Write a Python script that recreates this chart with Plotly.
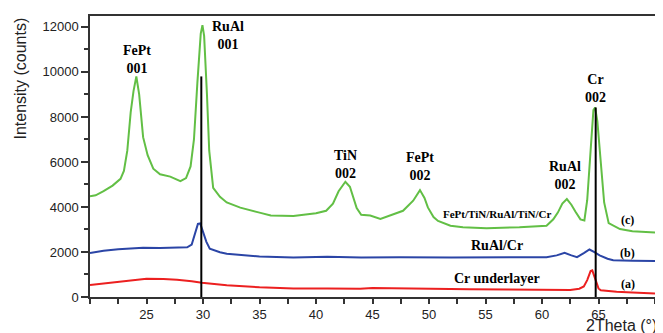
import plotly.graph_objects as go

# ---- data ----
c_x = [20.0, 20.5, 21.2, 22.0, 22.7, 23.0, 23.3, 23.6, 23.85, 24.1, 24.35, 24.7, 25.1, 25.6, 26.2,
       27.1, 28.0, 28.5, 28.9, 29.2, 29.5, 29.8, 29.95, 30.1, 30.35, 30.55, 30.9, 31.5, 32.1, 33.3,
       35.0, 36.0, 38.0, 40.0, 40.9, 41.5, 42.0, 42.6, 43.0, 43.6, 44.0, 44.8, 45.7, 46.5, 47.7,
       48.6, 49.2, 49.6, 49.9, 50.4, 50.8, 51.9, 53.0, 55.1, 58.0, 60.4, 61.0, 61.4, 61.8, 62.2,
       62.6, 62.95, 63.4, 63.75, 64.0, 64.3, 64.55, 64.7, 64.9, 65.2, 65.5, 65.9, 66.9, 68.0,
       69.0, 70.0]
c_y = [4480, 4520, 4700, 4950, 5250, 5600, 6500, 8200, 9150, 9800, 9000, 7100, 6300, 5700, 5450,
       5350, 5150, 5280, 5800, 7000, 9500, 11700, 12080, 11600, 9000, 6500, 4850, 4450, 4200, 3970,
       3750, 3620, 3600, 3720, 3830, 4150, 4700, 5120, 4900, 3950, 3650, 3620, 3470, 3600, 3830,
       4280, 4750, 4400, 3980, 3550, 3380, 3170, 3100, 3060, 3100, 3170, 3450, 3750, 4150, 4350,
       4100, 3800, 3450, 3400, 4300, 6500, 8300, 8420, 7800, 6000, 4200, 3280, 3020, 2920,
       2900, 2870]

b_x = [20.0, 21.2, 22.5, 24.7, 26.2, 27.5, 28.6, 29.0, 29.3, 29.55, 29.75, 30.0, 30.3, 30.6, 31.5,
       32.1, 35.0, 38.0, 41.0, 44.0, 47.4, 52.0, 57.0, 60.4, 61.3, 62.0, 62.6, 63.1, 63.7, 64.2,
       64.6, 65.1, 65.8, 66.3, 68.0, 70.0]
b_y = [1960, 2060, 2120, 2190, 2180, 2210, 2210, 2330, 2900, 3250, 3270, 2900, 2450, 2150, 1990,
       1920, 1800, 1760, 1790, 1760, 1770, 1750, 1760, 1770, 1850, 1960, 1850, 1770, 1950, 2110,
       2000, 1850, 1700, 1630, 1610, 1600]

a_x = [20.0, 21.2, 23.0, 25.0, 26.5, 27.7, 29.0, 29.9, 31.0, 32.1, 35.0, 38.0, 41.0, 43.9, 45.0,
       48.0, 53.6, 57.0, 60.0, 62.5, 63.3, 63.7, 64.0, 64.3, 64.45, 64.65, 64.8, 65.0, 65.2, 66.6,
       68.0, 70.0]
a_y = [530, 600, 720, 810, 800, 770, 700, 630, 580, 520, 430, 380, 380, 370, 400,
       370, 340, 330, 320, 310, 370, 470, 750, 1150, 1180, 900, 700, 380, 300, 230,
       200, 160]

ref_x = [29.85, 64.75]
ref_h = [9800, 8420]

x_ticks = [25, 30, 35, 40, 45, 50, 55, 60, 65]
y_ticks = [0, 2000, 4000, 6000, 8000, 10000, 12000]

GREEN = "#62bf45"
BLUE = "#2b45a6"
RED = "#ec2020"

fig = go.Figure()
fig.add_trace(go.Scatter(x=a_x, y=a_y, mode="lines", line=dict(color=RED, width=2), showlegend=False))
fig.add_trace(go.Scatter(x=b_x, y=b_y, mode="lines", line=dict(color=BLUE, width=2), showlegend=False))
fig.add_trace(go.Scatter(x=c_x, y=c_y, mode="lines", line=dict(color=GREEN, width=2), showlegend=False))
for xv, hv in zip(ref_x, ref_h):
    fig.add_trace(go.Scatter(x=[xv, xv], y=[0, hv], mode="lines",
                             line=dict(color="black", width=2), showlegend=False))

labels = [
    ("FePt<br>001", 24.13, 10540, 14),
    ("RuAl<br>001", 32.19, 11620, 14),
    ("TiN<br>002", 42.65, 5890, 14),
    ("FePt<br>002", 49.2, 5780, 14),
    ("RuAl<br>002", 62.04, 5420, 14),
    ("Cr<br>002", 64.72, 9250, 14),
    ("FePt/TiN/RuAl/TiN/Cr", 55.99, 3700, 11),
    ("(c)", 67.6, 3400, 12),
    ("RuAl/Cr", 55.99, 2290, 14),
    ("(b)", 67.6, 1940, 12),
    ("Cr underlayer", 55.99, 840, 14),
    ("(a)", 67.6, 570, 12),
]

# page body has an 8px default margin; figure is sized so the page is 663x333
W, H = 655, 325
L, R, T, B = 82, 8, 6, 36
PX0, PX1, PY0, PY1 = 90, 655, 14, 297  # plot area in page pixels


def paper_x(px):
    return (px - PX0) / (PX1 - PX0)


def paper_y(py):
    return (PY1 - py) / (PY1 - PY0)


annotations = []
for t, xv, yv, sz in labels:
    annotations.append(dict(text="<b>" + t + "</b>", x=xv, y=yv, xref="x", yref="y",
                            showarrow=False, xanchor="center", yanchor="middle",
                            font=dict(family="Liberation Serif", size=sz, color="black")))
annotations.append(dict(text="2Theta (°)", x=paper_x(659), y=paper_y(325.5), xref="paper", yref="paper",
                        showarrow=False, xanchor="right", yanchor="middle",
                        font=dict(family="Liberation Sans", size=16, color="#222")))
annotations.append(dict(text="Intensity (counts)", x=paper_x(21), y=paper_y(77), xref="paper", yref="paper",
                        showarrow=False, textangle=-90, xanchor="center", yanchor="middle",
                        font=dict(family="Liberation Sans", size=16, color="#222")))

axis_common = dict(showline=True, linecolor="#333", linewidth=1.5, mirror=True,
                   ticks="outside", tickcolor="#333", tickwidth=1.5, showgrid=False,
                   zeroline=False, tickfont=dict(family="Liberation Sans", size=13, color="#222"))

fig.update_layout(
    width=W, height=H,
    margin=dict(l=L, r=R, t=T, b=B, pad=0),
    paper_bgcolor="white", plot_bgcolor="white",
    xaxis=dict(range=[20, 70], tickvals=x_ticks, ticklen=5,
               minor=dict(dtick=2.5, tick0=0, ticklen=5, ticks="outside", tickcolor="#333", tickwidth=1.5),
               **axis_common),
    yaxis=dict(range=[0, 12485], tickvals=y_ticks, tickformat="d", ticklen=7,
               minor=dict(dtick=1000, tick0=0, ticklen=4, ticks="outside", tickcolor="#333", tickwidth=1.5),
               **axis_common),
    annotations=annotations,
)

fig.write_html("out.html")
